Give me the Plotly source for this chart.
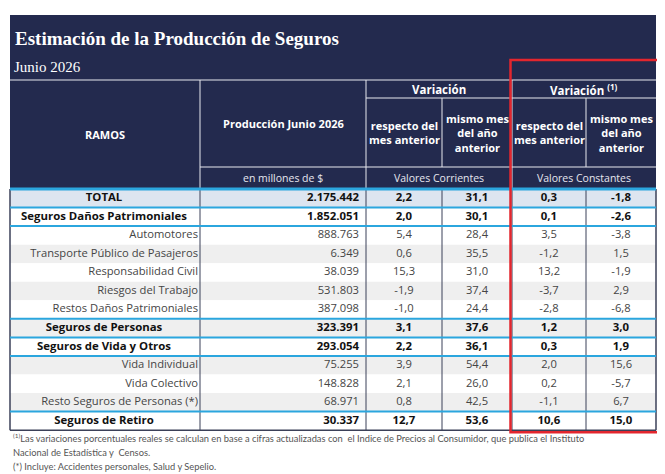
import plotly.graph_objects as go

# ---------------- data ----------------
titulo = "Estimación de la Producción de Seguros"
subtitulo = "Junio 2026"
ramos = [
    "TOTAL", "Seguros Daños Patrimoniales", "Automotores",
    "Transporte Público de Pasajeros", "Responsabilidad Civil",
    "Riesgos del Trabajo", "Restos Daños Patrimoniales",
    "Seguros de Personas", "Seguros de Vida y Otros", "Vida Individual",
    "Vida Colectivo", "Resto Seguros de Personas (*)", "Seguros de Retiro",
]
produccion = [2175442, 1852051, 888763, 6349, 38039, 531803, 387098,
              323391, 293054, 75255, 148828, 68971, 30337]
var_corr_mes = [2.2, 2.0, 5.4, 0.6, 15.3, -1.9, -1.0, 3.1, 2.2, 3.9, 2.1, 0.8, 12.7]
var_corr_anio = [31.1, 30.1, 28.4, 35.5, 31.0, 37.4, 24.4, 37.6, 36.1, 54.4, 26.0, 42.5, 53.6]
var_const_mes = [0.3, 0.1, 3.5, -1.2, 13.2, -3.7, -2.8, 1.2, 0.3, 2.0, 0.2, -1.1, 10.6]
var_const_anio = [-1.8, -2.6, -3.8, 1.5, -1.9, 2.9, -6.8, 3.0, 1.9, 15.6, -5.7, 6.7, 15.0]
es_agregado = [True, True, False, False, False, False, False, True, True, False, False, False, True]

col_ramos = "RAMOS"
col_prod = "Producción Junio 2026"
col_var = "Variación"
col_var_c = "Variación <sup>(1)</sup>"
col_mes = "respecto del<br>mes anterior"
col_anio = "mismo mes<br>del año<br>anterior"
unidad = "en millones de $"
val_corr = "Valores Corrientes"
val_const = "Valores Constantes"
nota1 = ("<sup>(1)</sup>Las variaciones porcentuales reales se calculan en base a cifras actualizadas con  "
         "el Indice de Precios al Consumidor, que publica el Instituto")
nota2 = "Nacional de Estadística y  Censos."
nota3 = "(*) Incluye: Accidentes personales, Salud y Sepelio."

# ---------------- layout constants ----------------
W, H = 665, 474
OFF = 8                                          # page body margin
XE = [10, 200, 366, 442, 512, 586, 656]          # column edges
NAVY = "#232a4e"
BLUE = "#2ba6de"
RED = "#e3262e"
GRID = "#3b4058"
TXT = "#454545"
FONT = "Open Sans"
HDR_TOP, HDR_L1, HDR_L2, HDR_L3, HDR_BOT = 15, 80, 98, 167, 188
ROW_TOP, ROW_H = 189, 18.55
n = len(ramos)
row_top = [ROW_TOP + i * ROW_H for i in range(n)]
row_mid = [t + ROW_H / 2 for t in row_top]
TABLE_BOT = ROW_TOP + n * ROW_H
SZ_B, SZ_R = 11.4, 11.2


def fmt_int(v):
    return f"{v:,}".replace(",", ".")


def fmt_dec(v):
    return f"{v:.1f}".replace(".", ",")


def b(s, bold):
    return f"<b>{s}</b>" if bold else s


shapes = []
shapes.append(dict(type="rect", x0=XE[0], x1=XE[-1], y0=HDR_TOP, y1=HDR_BOT,
                   fillcolor=NAVY, line=dict(width=0), layer="below"))
for i in range(n):
    if i == 0:
        fc = "#dde5f0"
    elif i >= 3 and i % 2 == 1:
        fc = "#efefef"
    else:
        fc = "#ffffff"
    shapes.append(dict(type="rect", x0=XE[0], x1=XE[-1], y0=row_top[i], y1=row_top[i] + ROW_H,
                       fillcolor=fc, line=dict(width=0), layer="below"))
for x in XE:
    w = 1.5 if x in (XE[0], XE[-1]) else 1
    shapes.append(dict(type="line", x0=x, x1=x, y0=ROW_TOP, y1=TABLE_BOT,
                       line=dict(color=GRID, width=w)))
shapes.append(dict(type="line", x0=XE[0], x1=XE[-1], y0=TABLE_BOT, y1=TABLE_BOT,
                   line=dict(color=GRID, width=1.5)))
WL = "#e8e8ee"
shapes += [
    dict(type="line", x0=XE[0], x1=XE[-1], y0=HDR_L1, y1=HDR_L1, line=dict(color=WL, width=1.2)),
    dict(type="line", x0=XE[2], x1=XE[-1], y0=HDR_L2, y1=HDR_L2, line=dict(color=WL, width=1.2)),
    dict(type="line", x0=XE[1], x1=XE[-1], y0=HDR_L3, y1=HDR_L3, line=dict(color=WL, width=1.2)),
    dict(type="line", x0=XE[1], x1=XE[1], y0=HDR_L1, y1=HDR_BOT, line=dict(color=WL, width=1)),
    dict(type="line", x0=XE[2], x1=XE[2], y0=HDR_L1, y1=HDR_BOT, line=dict(color=WL, width=1)),
    dict(type="line", x0=XE[4], x1=XE[4], y0=HDR_L1, y1=HDR_BOT, line=dict(color=WL, width=1)),
    dict(type="line", x0=XE[3], x1=XE[3], y0=HDR_L2, y1=HDR_L3, line=dict(color=WL, width=1)),
    dict(type="line", x0=XE[5], x1=XE[5], y0=HDR_L2, y1=HDR_L3, line=dict(color=WL, width=1)),
]
shapes.append(dict(type="line", x0=XE[0], x1=XE[-1], y0=ROW_TOP, y1=ROW_TOP,
                   line=dict(color=BLUE, width=3)))
for i in (1, 2, 7, 8, 9, 12):
    shapes.append(dict(type="line", x0=XE[0], x1=XE[-1], y0=row_top[i], y1=row_top[i],
                       line=dict(color=BLUE, width=2)))
shapes.append(dict(type="rect", x0=510.5, x1=660, y0=60, y1=TABLE_BOT + 2,
                   line=dict(color=RED, width=2.5), fillcolor="rgba(0,0,0,0)"))

fig = go.Figure()

idx_ag = [i for i in range(n) if es_agregado[i]]
idx_det = [i for i in range(n) if not es_agregado[i]]
fig.add_trace(go.Scatter(
    x=[104] * len(idx_ag), y=[row_mid[i] for i in idx_ag],
    text=[b(ramos[i], True) for i in idx_ag],
    mode="text", textposition="middle center",
    textfont=dict(family=FONT, size=SZ_B, color="#111111"), hoverinfo="skip"))
fig.add_trace(go.Scatter(
    x=[XE[1] - 2] * len(idx_det), y=[row_mid[i] for i in idx_det],
    text=[ramos[i] for i in idx_det],
    mode="text", textposition="middle left",
    textfont=dict(family=FONT, size=SZ_R, color=TXT), hoverinfo="skip"))
fig.add_trace(go.Scatter(
    x=[XE[2] - 7] * n, y=row_mid,
    text=[b(fmt_int(v), a) for v, a in zip(produccion, es_agregado)],
    mode="text", textposition="middle left",
    textfont=dict(family=FONT, size=[SZ_B if a else SZ_R for a in es_agregado],
                  color=["#111111" if a else TXT for a in es_agregado]),
    hoverinfo="skip"))
for k, serie in enumerate([var_corr_mes, var_corr_anio, var_const_mes, var_const_anio]):
    cx = (XE[2 + k] + XE[3 + k]) / 2
    fig.add_trace(go.Scatter(
        x=[cx] * n, y=row_mid,
        text=[b(fmt_dec(v), a) for v, a in zip(serie, es_agregado)],
        mode="text", textposition="middle center",
        textfont=dict(family=FONT, size=[SZ_B if a else SZ_R for a in es_agregado],
                      color=["#111111" if a else TXT for a in es_agregado]),
        hoverinfo="skip"))

ann = []
WH = "#ffffff"
ann.append(dict(x=13, y=38, text=f"<b>{titulo}</b>", xanchor="left", yanchor="middle",
                font=dict(family="Liberation Serif", size=19, color=WH)))
ann.append(dict(x=12, y=67, text=subtitulo, xanchor="left", yanchor="middle",
                font=dict(family="Liberation Serif", size=15, color=WH)))
ann.append(dict(x=(XE[0] + XE[1]) / 2, y=134, text=f"<b>{col_ramos}</b>", xanchor="center", yanchor="middle",
                font=dict(family=FONT, size=11, color=WH)))
ann.append(dict(x=(XE[1] + XE[2]) / 2, y=123, text=f"<b>{col_prod}</b>", xanchor="center", yanchor="middle",
                font=dict(family=FONT, size=11, color=WH)))
ann.append(dict(x=(XE[2] + XE[4]) / 2, y=89, text=f"<b>{col_var}</b>", xanchor="center", yanchor="middle",
                font=dict(family=FONT, size=11.5, color=WH)))
ann.append(dict(x=(XE[4] + XE[6]) / 2, y=89, text=f"<b>{col_var_c}</b>", xanchor="center", yanchor="middle",
                font=dict(family=FONT, size=11.5, color=WH)))
for k in range(4):
    cx = (XE[2 + k] + XE[3 + k]) / 2
    t = col_mes if k % 2 == 0 else col_anio
    ann.append(dict(x=cx, y=(HDR_L2 + HDR_L3) / 2, text=f"<b>{t}</b>", xanchor="center", yanchor="middle",
                    align="center", font=dict(family=FONT, size=11, color=WH)))
ann.append(dict(x=(XE[1] + XE[2]) / 2, y=(HDR_L3 + HDR_BOT) / 2, text=unidad, xanchor="center", yanchor="middle",
                font=dict(family=FONT, size=10.5, color="#e6e6ee")))
ann.append(dict(x=(XE[2] + XE[4]) / 2, y=(HDR_L3 + HDR_BOT) / 2, text=val_corr, xanchor="center", yanchor="middle",
                font=dict(family=FONT, size=10.5, color="#e6e6ee")))
ann.append(dict(x=(XE[4] + XE[6]) / 2, y=(HDR_L3 + HDR_BOT) / 2, text=val_const, xanchor="center", yanchor="middle",
                font=dict(family=FONT, size=10.5, color="#e6e6ee")))
for yy, t in ((438, nota1), (452, nota2), (466, nota3)):
    ann.append(dict(x=11, y=yy, text=t, xanchor="left", yanchor="middle",
                    font=dict(family="Lato", size=9.3, color="#555555")))
for a in ann:
    a.update(xref="x", yref="y", showarrow=False)

fig.update_layout(
    width=W, height=H, margin=dict(l=0, r=0, t=0, b=0),
    paper_bgcolor="white", plot_bgcolor="white", showlegend=False,
    xaxis=dict(range=[OFF, W + OFF], visible=False, fixedrange=True),
    yaxis=dict(range=[H + OFF, OFF], visible=False, fixedrange=True),
    shapes=shapes, annotations=ann,
)
fig.write_html("out.html")
